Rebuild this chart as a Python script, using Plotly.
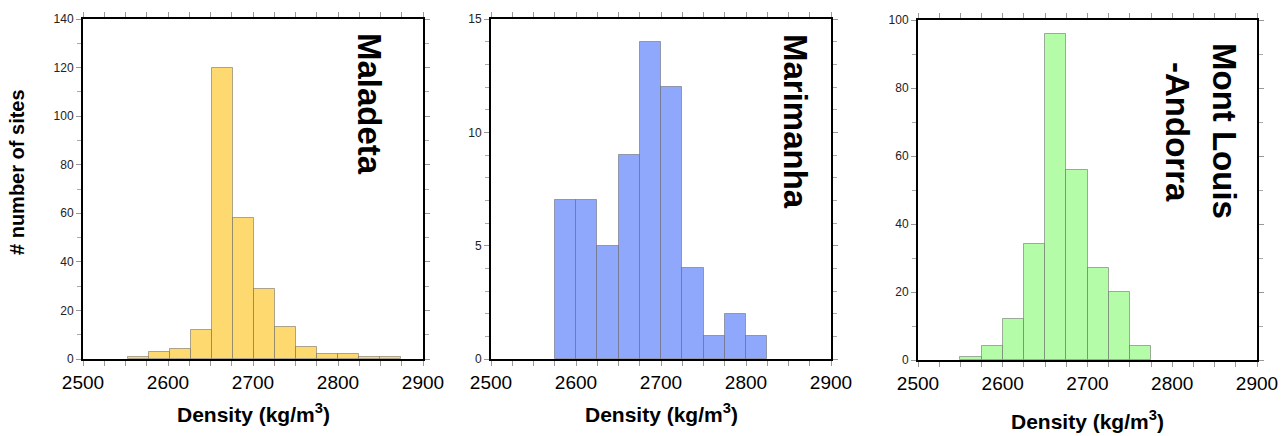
import plotly.graph_objects as go

# bin left edges (kg/m3) and counts
maladeta_bins = [2553, 2577.7, 2602.4, 2627.1, 2651.8, 2676.5, 2701.2, 2725.9, 2750.6, 2775.3, 2800, 2824.7, 2849.4]
maladeta_counts = [1, 3, 4, 12, 120, 58, 29, 13, 5, 2, 2, 1, 1]

marimanha_bins = [2575, 2600, 2625, 2650, 2675, 2700, 2725, 2750, 2775, 2800]
marimanha_counts = [7, 7, 5, 9, 14, 12, 4, 1, 2, 1]

montlouis_bins = [2550, 2575, 2600, 2625, 2650, 2675, 2700, 2725, 2750]
montlouis_counts = [1, 4, 12, 34, 96, 56, 27, 20, 4]

x_ticks = [2500, 2600, 2700, 2800, 2900]

TICK_FONT = "Liberation Sans, Arial, sans-serif"
BOLD_FONT = "Liberation Sans Narrow, Arial Narrow, Liberation Sans, Arial, sans-serif"

W, H = 1288, 436


def px_x(p):
    return p / W


def px_y(p):
    return 1 - p / H


panels = [
    dict(bins=maladeta_bins, counts=maladeta_counts, width=24.7, color="#fdd96f",
         ymax=140, ydt=20, ydt_minor=10, x0=83, x1=423, y0=19, y1=359),
    dict(bins=marimanha_bins, counts=marimanha_counts, width=25, color="#8fa8fb",
         ymax=15, ydt=5, ydt_minor=1, x0=491, x1=831, y0=19, y1=359),
    dict(bins=montlouis_bins, counts=montlouis_counts, width=25, color="#b4fca8",
         ymax=100, ydt=20, ydt_minor=10, x0=918, x1=1257, y0=20, y1=360),
]

fig = go.Figure()
layout = {}
for i, p in enumerate(panels):
    n = "" if i == 0 else str(i + 1)
    fig.add_trace(go.Bar(
        x=p["bins"], y=p["counts"], width=p["width"], offset=0,
        marker=dict(color=p["color"], line=dict(color="rgba(90,90,90,0.5)", width=1)),
        xaxis="x" + n, yaxis="y" + n, showlegend=False,
    ))
    layout["xaxis" + n] = dict(
        domain=[px_x(p["x0"]), px_x(p["x1"])], anchor="y" + n, automargin=False,
        range=[2500, 2900], tickvals=x_ticks, ticks="outside", ticklen=5,
        tickcolor="#999", tickwidth=1, showline=True, linecolor="black",
        linewidth=2, mirror="allticks", showgrid=False, zeroline=False,
        tickfont=dict(family=TICK_FONT, size=19, color="black"),
        minor=dict(dtick=25, tick0=2500, ticks="outside", ticklen=5, tickcolor="#999", showgrid=False),
    )
    layout["yaxis" + n] = dict(
        domain=[px_y(p["y1"]), px_y(p["y0"])], anchor="x" + n, automargin=False,
        range=[0, p["ymax"]], dtick=p["ydt"], ticks="outside", ticklen=5,
        tickcolor="#999", tickwidth=1, showline=True, linecolor="black",
        linewidth=2, mirror="allticks", showgrid=False, zeroline=False,
        tickfont=dict(family=TICK_FONT, size=12, color="#222"),
        minor=dict(dtick=p["ydt_minor"], ticks="outside", ticklen=4, tickcolor="#aaa", showgrid=False),
    )

annotations = []
# x-axis titles
for p, ty in zip(panels, [413, 413, 420]):
    annotations.append(dict(
        text="<b>Density (kg/m<sup>3</sup>)</b>",
        x=px_x((p["x0"] + p["x1"]) / 2), y=px_y(ty),
        font=dict(family=BOLD_FONT, size=21, color="black"),
    ))
# y-axis title
annotations.append(dict(
    text="<b># number of sites</b>", x=px_x(17), y=px_y(172), textangle=-90,
    font=dict(family=BOLD_FONT, size=20, color="black"),
))
# panel names
for name, cx, cy in [("Maladeta", 370, 104), ("Marimanha", 796, 121),
                     ("Mont Louis", 1225, 131), ("-Andorra", 1177, 132)]:
    annotations.append(dict(
        text="<b>" + name + "</b>", x=px_x(cx), y=px_y(cy), textangle=90,
        font=dict(family=BOLD_FONT, size=33, color="black"),
    ))
for a in annotations:
    a.update(xref="paper", yref="paper", xanchor="center", yanchor="middle", showarrow=False)

fig.update_layout(
    width=W, height=H, margin=dict(l=0, r=0, t=0, b=0),
    paper_bgcolor="white", plot_bgcolor="white", bargap=0,
    annotations=annotations, **layout,
)

# drop the page's default body margin so the figure sits at the window's corner
fig.write_html("out.html", config={"displayModeBar": False},
               post_script="document.body.style.margin='0';")
